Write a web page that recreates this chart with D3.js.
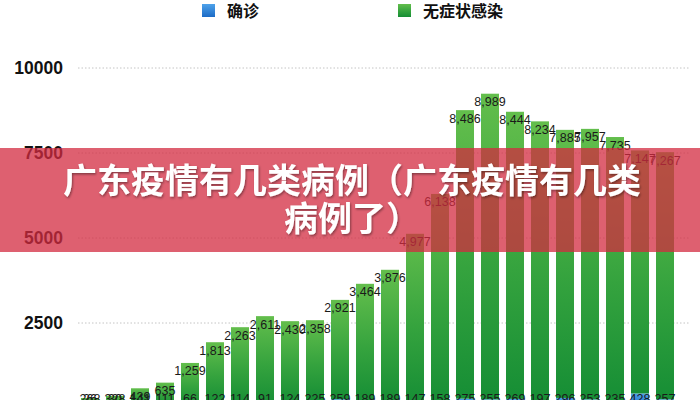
<!DOCTYPE html>
<html><head><meta charset="utf-8">
<script src="https://cdn.jsdelivr.net/npm/d3@7/dist/d3.min.js"></script>
<style>html,body{margin:0;padding:0;background:#fff;overflow:hidden}</style>
</head><body>
<svg id="c" width="700" height="400"></svg>
<script>
const categories = ["1","2","3","4","5","6","7","8","9","10","11","12","13","14","15","16","17","18","19","20","21","22","23","24"];
const confirmed = [26, 30, 141, 111, 66, 122, 114, 91, 124, 225, 259, 189, 189, 147, 158, 275, 255, 269, 197, 296, 253, 235, 428, 257];
const asymptomatic = [268, 328, 439, 635, 1259, 1813, 2263, 2611, 2430, 2358, 2921, 3464, 3876, 4977, 6138, 8486, 8989, 8444, 8234, 7885, 7957, 7735, 7147, 7267];
const yTicks = [2500, 5000, 7500, 10000];
const legendNames = ["确诊", "无症状感染"];
const titleLines = ["广东疫情有几类病例（广东疫情有几类", "病例了）"];

const svg = d3.select("#c");
const W = 700, H = 400;
const x = d3.scaleBand().domain(categories).range([77.5, 677.5]).paddingInner(0.28).paddingOuter(0.14);
const y = d3.scaleLinear().domain([0, 10000]).range([408, 68]);
const fmt = d3.format(",");

const defs = svg.append("defs");
const gG = defs.append("linearGradient").attr("id","gGreen").attr("x1",0).attr("y1",0).attr("x2",0).attr("y2",1);
gG.append("stop").attr("offset","0%").attr("stop-color","#63be4c");
gG.append("stop").attr("offset","55%").attr("stop-color","#35a33e");
gG.append("stop").attr("offset","100%").attr("stop-color","#168e35");
const gB = defs.append("linearGradient").attr("id","gBlue").attr("x1",0).attr("y1",0).attr("x2",0).attr("y2",1);
gB.append("stop").attr("offset","0%").attr("stop-color","#4ea2ea");
gB.append("stop").attr("offset","100%").attr("stop-color","#1c6bc6");
const sh = defs.append("filter").attr("id","tsh").attr("x","-5%").attr("y","-20%").attr("width","110%").attr("height","140%");
sh.append("feDropShadow").attr("dx",1).attr("dy",1.5).attr("stdDeviation",1.2).attr("flood-color","#000").attr("flood-opacity",0.4);

// gridlines
svg.append("g").selectAll("line").data(yTicks).join("line")
  .attr("x1",78).attr("x2",690).attr("y1",d=>y(d)).attr("y2",d=>y(d))
  .attr("stroke","#b5b5b5").attr("stroke-width",0.8).attr("stroke-dasharray","1.5,2");

// y axis labels
svg.append("g").selectAll("text").data(yTicks).join("text")
  .attr("x",63).attr("y",d=>y(d)).attr("dy","0.36em").attr("text-anchor","end")
  .attr("font-family","Liberation Sans, Arial, sans-serif").attr("font-weight","bold").attr("font-size",17.5)
  .attr("fill","#111").text(d=>d);

// bars
const data = categories.map((c,i)=>({c, conf: confirmed[i], asym: asymptomatic[i]}));
const g = svg.append("g");
g.selectAll("rect.b").data(data).join("rect").attr("class","b")
  .attr("x",d=>x(d.c)).attr("width",x.bandwidth())
  .attr("y",d=>y(d.conf)).attr("height",d=>y(0)-y(d.conf)).attr("fill","url(#gBlue)");
g.selectAll("rect.g").data(data).join("rect").attr("class","g")
  .attr("x",d=>x(d.c)).attr("width",x.bandwidth())
  .attr("y",d=>y(d.conf+d.asym)).attr("height",d=>y(d.conf)-y(d.conf+d.asym)).attr("fill","url(#gGreen)");

// labels
const lf = "Liberation Sans, Arial, sans-serif";
g.selectAll("text.lc").data(data).join("text").attr("class","lc")
  .attr("x",d=>x(d.c)+x.bandwidth()/2).attr("y",y(0)-5).attr("text-anchor","middle")
  .attr("font-family",lf).attr("font-size",12.5).attr("fill","#1a1a1a").text(d=>fmt(d.conf));
g.selectAll("text.la").data(data).join("text").attr("class","la")
  .attr("x",d=>x(d.c)+x.bandwidth()/2).attr("y",d=>Math.min(y(d.conf+d.asym)+12.5, y(0)-5))
  .attr("text-anchor","middle").attr("font-family",lf).attr("font-size",12.5).attr("fill","#1a1a1a")
  .text(d=>fmt(d.asym));

// legend
const leg = svg.append("g");
const legX = [202, 398];
const legFill = ["url(#gBlue)","url(#gGreen)"];
legendNames.forEach((n,i)=>{
  leg.append("rect").attr("x",legX[i]).attr("y",4).attr("width",13).attr("height",13).attr("fill",legFill[i]);
  leg.append("text").attr("x",legX[i]+25).attr("y",11).attr("dy","0.36em")
    .attr("font-family","Noto Sans CJK SC, sans-serif").attr("font-weight","bold").attr("font-size",16)
    .attr("fill","#111").text(n);
});

// banner overlay
svg.append("rect").attr("x",0).attr("y",148).attr("width",W).attr("height",104)
  .attr("fill","rgb(211,43,64)").attr("fill-opacity",0.75);
const tt = svg.append("text").attr("text-anchor","middle")
  .attr("font-family","Noto Sans CJK SC, sans-serif").attr("font-weight","bold").attr("font-size",34)
  .attr("fill","#fff").attr("filter","url(#tsh)");
titleLines.forEach((t,i)=>{
  tt.append("tspan").attr("x",352).attr("y",193 + i*38).text(t);
});
</script>
</body></html>
